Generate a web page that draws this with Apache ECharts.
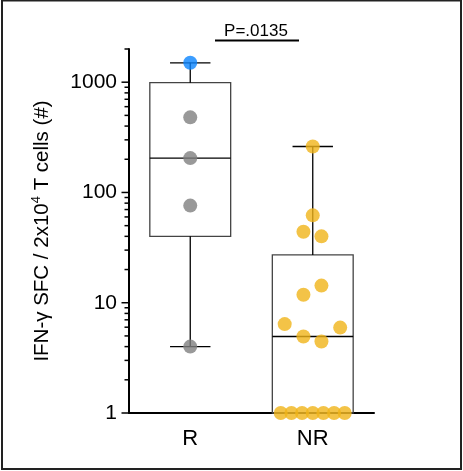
<!DOCTYPE html>
<html>
<head>
<meta charset="utf-8">
<script src="https://cdn.jsdelivr.net/npm/echarts@6/dist/echarts.min.js"></script>
<style>
html,body{margin:0;padding:0;background:#fff}
#main{width:463px;height:471px}
</style>
</head>
<body>
<div id="main"></div>
<script>
/* data */
var categories=['R','NR'];
var rHighlight=[1500];
var rValues=[480,205,76,4];
var nrValues=[261,62,44,40,14.3,11.8,6.4,5.95,4.94,4.45,1,1,1,1,1,1,1];
// horizontal spread of the NR dots, in category units
var nrJitter=[0,0,-0.076,0.071,0.071,-0.076,-0.229,0.224,-0.076,0.071,-0.261,-0.174,-0.087,0,0.087,0.174,0.261];
var yMajorTicks=[1,10,100,1000];
var yMinorTicks=[2,3,4,5,6,7,8,9,20,30,40,50,60,70,80,90,200,300,400,500,600,700,800,900,2000];
var pLabel='P=.0135';

var font='Liberation Sans, Arial, sans-serif';

/* quartiles like prism (n+1 method) */
function quantile(s,p){
	var pos=p*(s.length+1),lo=Math.floor(pos),fr=pos-lo;
	if(lo<1) return s[0];
	if(lo>=s.length) return s[s.length-1];
	return s[lo-1]+fr*(s[lo]-s[lo-1]);
}
function boxStats(idx,vals){
	var s=vals.slice().sort(function(a,b){return a-b});
	return [idx,s[0],quantile(s,0.25),quantile(s,0.5),quantile(s,0.75),s[s.length-1]];
}
var boxData=[boxStats(0,rHighlight.concat(rValues)),boxStats(1,nrValues)];

function renderBox(params,api){
	var c=api.value(0);
	var pMin=api.coord([c,api.value(1)]);
	var pQ1=api.coord([c,api.value(2)]);
	var pMed=api.coord([c,api.value(3)]);
	var pQ3=api.coord([c,api.value(4)]);
	var pMax=api.coord([c,api.value(5)]);
	var w=api.size([1,1],[c,1])[0]*0.66;
	var x=pMed[0];
	var ln={stroke:'#000',lineWidth:1.3};
	var kids=[
		{type:'rect',shape:{x:x-w/2,y:pQ3[1],width:w,height:pQ1[1]-pQ3[1]},style:{fill:'none',stroke:'#444',lineWidth:1.3}},
		{type:'line',shape:{x1:x-w/2,y1:pMed[1],x2:x+w/2,y2:pMed[1]},style:ln}
	];
	if(pMax[1]<pQ3[1]){
		kids.push({type:'line',shape:{x1:x,y1:pQ3[1],x2:x,y2:pMax[1]},style:ln});
		kids.push({type:'line',shape:{x1:x-w/4,y1:pMax[1],x2:x+w/4,y2:pMax[1]},style:ln});
	}
	if(pMin[1]>pQ1[1]){
		kids.push({type:'line',shape:{x1:x,y1:pQ1[1],x2:x,y2:pMin[1]},style:ln});
		kids.push({type:'line',shape:{x1:x-w/4,y1:pMin[1],x2:x+w/4,y2:pMin[1]},style:ln});
	}
	return {type:'group',children:kids};
}
function tickRenderer(len){
	return function(params,api){
		var p=api.coord([0,api.value(1)]);
		var x0=params.coordSys.x;
		return {type:'line',shape:{x1:x0-len,y1:p[1],x2:x0,y2:p[1]},style:{stroke:'#000',lineWidth:1.5}};
	}
}

var chart=echarts.init(document.getElementById('main'));
var option={
	backgroundColor:'#fff',
	animation:false,
	grid:{left:129,right:89,top:49,bottom:58},
	xAxis:[{
		type:'category',data:categories,
		axisLine:{onZero:false,lineStyle:{color:'#000',width:2}},
		axisTick:{alignWithLabel:true,length:6,lineStyle:{color:'#000',width:2}},
		axisLabel:{fontSize:22,color:'#000',fontFamily:font,margin:15}
	},{
		type:'value',min:-0.5,max:1.5,show:false,position:'bottom'
	}],
	yAxis:{
		type:'log',logBase:10,min:1,max:2000,
		axisLine:{show:true,onZero:false,lineStyle:{color:'#000',width:2}},
		axisTick:{show:false},
		splitLine:{show:false},
		axisLabel:{fontSize:21,color:'#000',fontFamily:font,margin:12,
			formatter:function(v){
				for(var i=0;i<yMajorTicks.length;i++){ if(Math.abs(v-yMajorTicks[i])<1e-6*yMajorTicks[i]) return String(yMajorTicks[i]); }
				return '';
			}},
		name:'{a|IFN-γ SFC / 2x10}{s|4}{a| T cells (#)}',
		nameLocation:'middle',nameRotate:90,nameGap:75,
		nameTextStyle:{fontFamily:font,color:'#000',fontSize:20.5,
			rich:{a:{fontFamily:font,color:'#000',fontSize:20.5,lineHeight:24},
				s:{fontFamily:font,color:'#000',fontSize:13,lineHeight:13,verticalAlign:'top'}}}
	},
	series:[
		{type:'custom',name:'minor',renderItem:tickRenderer(4.5),data:yMinorTicks.map(function(v){return [0,v]}),encode:{x:0,y:1},z:1,silent:true},
		{type:'custom',name:'major',renderItem:tickRenderer(7.5),data:yMajorTicks.map(function(v){return [0,v]}),encode:{x:0,y:1},z:1,silent:true},
		{type:'custom',name:'box',renderItem:renderBox,data:boxData,encode:{x:0,y:[1,2,3,4,5]},z:2},
		{type:'scatter',name:'R',xAxisIndex:1,symbolSize:14,clip:false,z:3,
			itemStyle:{color:'#7f7f7f'},
			data:rValues.map(function(v){return [0,v]})},
		{type:'scatter',name:'R max',xAxisIndex:1,symbolSize:14,clip:false,z:3,
			itemStyle:{color:'#0a84ff'},
			data:rHighlight.map(function(v){return [0,v]})},
		{type:'scatter',name:'NR',xAxisIndex:1,symbolSize:14,clip:false,z:3,
			itemStyle:{color:'#f0b419'},
			data:nrValues.map(function(v,i){return [1+nrJitter[i],v]})}
	],
	graphic:[
		{type:'rect',shape:{x:2,y:0.5,width:459,height:468.5},style:{fill:'none',stroke:'#222',lineWidth:2}},
		{type:'text',x:256,y:31,style:{text:pLabel,font:'17px '+font,fill:'#000',textAlign:'center',textVerticalAlign:'middle'}},
		{type:'line',shape:{x1:215,y1:40.5,x2:299,y2:40.5},style:{stroke:'#000',lineWidth:2}}
	]
};
chart.setOption(option);
</script>
</body>
</html>
